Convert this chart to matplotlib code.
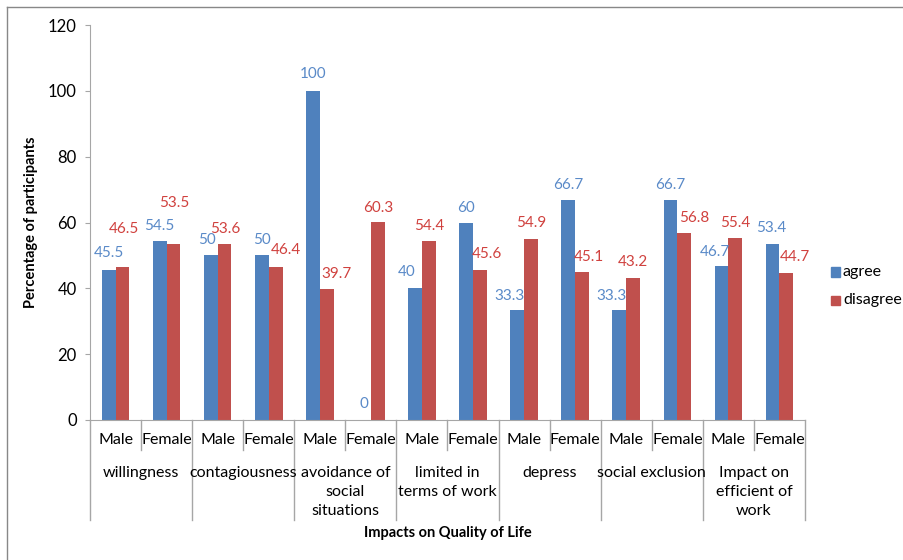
import matplotlib.pyplot as plt
from matplotlib.patches import Rectangle
from matplotlib.lines import Line2D
import numpy as np

plt.rcParams['font.family'] = ['Lato', 'DejaVu Sans']

# data
groups = ['willingness', 'contagiousness', 'avoidance of\nsocial\nsituations',
          'limited in\nterms of work', 'depress', 'social exclusion',
          'Impact on\nefficient of\nwork']
sexes = ['Male', 'Female']
agree = [45.5, 54.5, 50, 50, 100, 0, 40, 60, 33.3, 66.7, 33.3, 66.7, 46.7, 53.4]
disagree = [46.5, 53.5, 53.6, 46.4, 39.7, 60.3, 54.4, 45.6, 54.9, 45.1, 43.2, 56.8, 55.4, 44.7]

# label nudges (px) so neighbouring value labels don't collide
agree_dx = [0, 0, -4, 0, 0, 0, -8, 0, -8, 0, -8, 0, -7, -1]
agree_up = [17, 15, 15, 15, 17, 16, 16, 15, 14, 15, 14, 15, 14, 16]
dis_dx = [1, 1, 1, 10, 10, 0, 0, 7, 0, 7, 0, 10, 0, 9]
dis_up = [38, 41, 15, 17, 15, 14, 15, 16, 16, 15, 16, 15, 15, 16]

blue = '#4F81BD'
red = '#C0504D'
blue_txt = '#5A8AC8'
red_txt = '#D0413E'
line_c = '#A6A6A6'

W, H = 904, 560
fig = plt.figure(figsize=(W / 100, H / 100), dpi=100)
ax = fig.add_axes([90 / W, 1 - 420 / H, (805 - 90) / W, (420 - 25) / H])
ax_h = 420 - 25  # axes height in px

x = np.arange(len(agree))
bw = 0.27
ax.bar(x - bw / 2, agree, bw, color=blue)
ax.bar(x + bw / 2, disagree, bw, color=red)

for i in range(len(agree)):
    ax.annotate('%g' % agree[i], (x[i] - bw / 2, agree[i]),
                xytext=(agree_dx[i], agree_up[i]), textcoords='offset pixels',
                ha='center', va='center', color=blue_txt, fontsize=11)
    ax.annotate('%g' % disagree[i], (x[i] + bw / 2, disagree[i]),
                xytext=(dis_dx[i], dis_up[i]), textcoords='offset pixels',
                ha='center', va='center', color=red_txt, fontsize=11)

ax.set_xlim(-0.5, len(agree) - 0.5)
ax.set_ylim(0, 120)
ax.set_yticks(range(0, 121, 20))
ax.tick_params(axis='y', labelsize=12, length=3.5, color=line_c, pad=6)
ax.set_xticks([])
for s in ['top', 'right']:
    ax.spines[s].set_visible(False)
for s in ['left', 'bottom']:
    ax.spines[s].set_color(line_c)
ax.set_ylabel('Percentage of participants', fontsize=10.5, fontweight='bold')
ax.yaxis.set_label_coords((38 - 90) / 715, 0.5)

# two-level category axis
tr = ax.get_xaxis_transform()
def yf(px):
    return -px / ax_h

for i in range(len(agree)):
    ax.text(i, yf(20), sexes[i % 2], transform=tr, ha='center', va='center', fontsize=11.5)
for i in range(len(agree) // 2):
    ax.text(2 * i + 0.5, yf(46), groups[i], transform=tr, ha='center', va='top',
            fontsize=11.5, linespacing=1.45, multialignment='center')
    ax.add_line(Line2D([2 * i + 0.5] * 2, [0, yf(30)], transform=tr, color=line_c,
                       lw=1, clip_on=False))
for b in np.arange(-0.5, len(agree), 2):
    ax.add_line(Line2D([b, b], [0, yf(100)], transform=tr, color=line_c,
                       lw=1, clip_on=False))

fig.text((90 + 805) / 2 / W, 1 - 533 / H, 'Impacts on Quality of Life',
         ha='center', va='center', fontsize=10.5, fontweight='bold')

# legend
for lab, col, yp in [('agree', blue, 272), ('disagree', red, 300)]:
    fig.add_artist(Rectangle((831 / W, 1 - (yp + 4.5) / H), 9 / W, 9 / H,
                             transform=fig.transFigure, color=col))
    fig.text(843 / W, 1 - yp / H, lab, ha='left', va='center', fontsize=11.5)

# outer frame
fig.add_artist(Line2D([7 / W, 7 / W], [0, 1 - 7 / H], transform=fig.transFigure,
                      color='#888888', lw=1))
fig.add_artist(Line2D([7 / W, 1], [1 - 7 / H, 1 - 7 / H], transform=fig.transFigure,
                      color='#888888', lw=1))

fig.savefig('out.png', dpi=100)
